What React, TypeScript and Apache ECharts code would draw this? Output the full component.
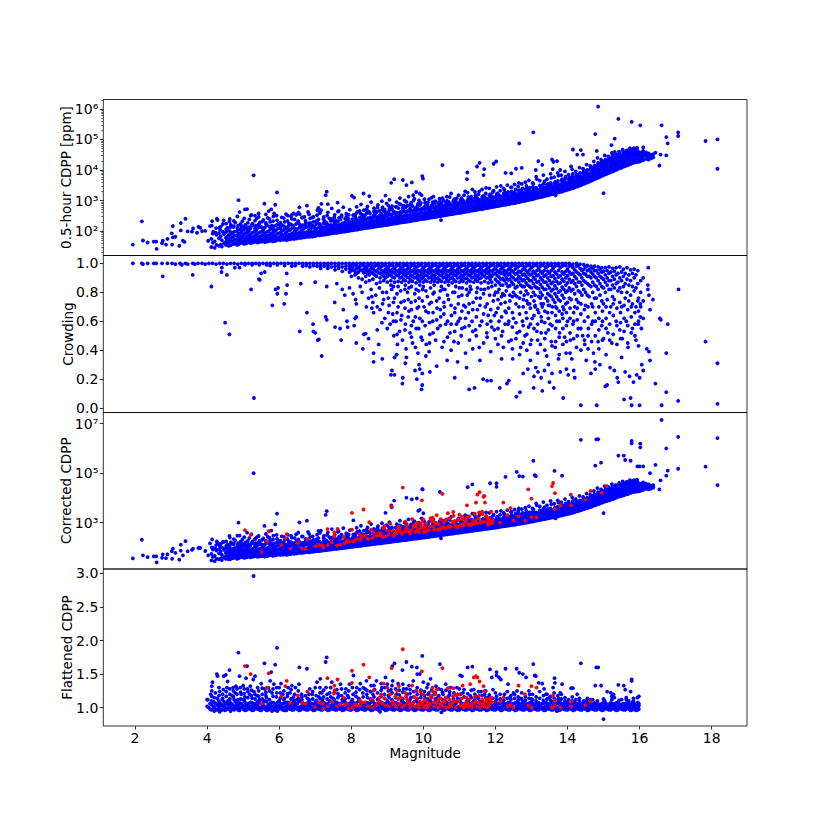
import React, { useEffect, useRef } from "react";
import * as echarts from "echarts";

// Every number below is an estimate.
// Rows are [magnitude, value, value, ...]; pairs are [magnitude, value].
const xTicks = [2, 4, 6, 8, 10, 12, 14, 16, 18];
const cdppTicks = [1e2, 1e3, 1e4, 1e5, 1e6];
const cdppMinor = [20, 30, 40, 50, 60, 70, 80, 90, 200, 300, 400, 500, 600, 700, 800, 900, 2e3, 3e3, 4e3, 5e3, 6e3, 7e3, 8e3, 9e3, 2e4, 3e4, 4e4, 5e4, 6e4, 7e4, 8e4, 9e4, 2e5, 3e5, 4e5, 5e5, 6e5, 7e5, 8e5, 9e5, 2e6];
const crowdTicks = [0, 0.2, 0.4, 0.6, 0.8, 1.0];
const correctedTicks = [1e3, 1e5, 1e7];
const flatTicks = [1.0, 1.5, 2.0, 2.5, 3.0];
const superscript: Record<number, string> = { 100: "10²", 1000: "10³", 10000: "10⁴", 100000: "10⁵", 1000000: "10⁶", 10000000: "10⁷" };

const cdppBand = [
[4.03,48],[4.12,30,55],[4.21,28,46],[4.33,33,58,85],[4.41,31,50],[4.52,35,44,60,92],[4.6,33,41,52,74],[4.71,37,47,63,88],[4.83,35,43,55,72,100],[4.9,39,48,62,84],[5.02,38,46,57,76,110],[5.11,41,50,65,90],[5.2,40,47,60,78,120],[5.31,44,53,68,95],[5.4,42,50,62,82,125],[5.52,45,55,70,98],[5.6,43,52,64,85,130],[5.71,47,57,72,100],[5.82,46,54,66,88,135],[5.9,48,58,74,105],[6.03,50,57,68,90,140],[6.12,52,60,76,108],[6.2,50,58,70,92,130],[6.31,54,62,78,110],[6.42,55,64,75,95],[6.5,58,67,82,115],[6.61,60,68,80,100],[6.7,62,72,86,125],[6.83,64,74,88,110,150],[6.92,66,76,92,130],
[7.01,70,80,95,115],[7.12,72,84,100,130,170],[7.2,75,86,105,125],[7.31,78,90,108,140,190],[7.42,82,95,112,135],[7.5,85,98,118,150,220],[7.61,88,102,122,145],[7.7,92,106,128,160,240],[7.82,96,112,135,170],[7.91,100,118,140,175,260],[8.02,105,122,148,190],[8.11,110,130,155,200,300],[8.2,114,135,165,210],[8.31,120,142,172,225,340],[8.4,125,150,182,240],[8.52,130,156,190,250,380],[8.6,135,162,200,265],[8.71,142,170,210,280,420],[8.82,148,178,220,290],[8.9,155,186,232,310,450],
[9.01,160,195,242,320],[9.1,168,205,255,340,500],[9.22,176,215,268,360],[9.31,184,225,280,375,560],[9.4,192,235,295,395],[9.51,200,245,310,415,600],[9.62,210,258,325,435],[9.7,220,270,340,450,650],[9.81,230,282,355,470],[9.9,240,295,370,490,700],[10.02,252,310,385,510],[10.11,262,325,400,530,750],[10.2,275,340,420,550],[10.31,288,355,440,575,800],[10.42,300,370,460,600],[10.5,315,385,480,625,850],[10.61,330,405,500,650],[10.7,345,425,520,680,900],[10.81,360,445,545,710],[10.9,378,465,570,740,950],
[11.02,395,485,595,770],[11.1,415,505,620,800,1000],[11.21,435,530,650,840],[11.3,455,555,680,870,1100],[11.41,475,580,710,900],[11.5,500,610,740,950,1200],[11.62,525,640,780,1000],[11.7,550,670,820,1050,1300],[11.81,580,700,860,1100],[11.9,610,735,900,1150,1400],[12.01,640,770,940,1200],[12.1,670,810,990,1250,1500],[12.2,705,850,1040,1300],[12.31,740,895,1090,1350,1650],[12.4,780,940,1150,1420],[12.52,820,990,1210,1500,1800],[12.6,870,1050,1280,1580],[12.7,920,1110,1350,1660,2000],[12.82,980,1180,1430,1750],[12.9,1040,1250,1520,1850,2200],
[13.01,1100,1330,1610,1960],[13.1,1180,1420,1720,2080,2500],[13.2,1260,1510,1830,2200],[13.32,1350,1620,1950,2350,2800],[13.4,1440,1730,2080,2500],[13.5,1540,1850,2220,2650,3200],[13.61,1650,1980,2380,2850],[13.7,1780,2130,2550,3050,3600],[13.82,1920,2300,2750,3300],[13.9,2080,2500,3000,3550,4200],[14.01,2260,2700,3250,3850],[14.1,2450,2950,3550,4200,5000],[14.2,2700,3250,3900,4650],[14.31,3000,3600,4300,5200,6200],[14.4,3300,4000,4800,5800],[14.5,3700,4450,5400,6500,8000],[14.6,4150,5000,6100,7400],[14.7,4700,5700,7000,8500,10500],[14.8,5300,6400,7900,9700,12000],[14.9,6000,7300,9000,11000,14000],
[15.0,6800,8200,10200,12500,16000],[15.1,7600,9300,11500,14000,18000],[15.2,8500,10500,13000,16000,21000],[15.3,9600,12000,15000,18500,24000],[15.4,11000,13500,17000,21000,27000],[15.5,12000,15000,19000,24000,31000],[15.6,13500,17000,21000,27000,34000],[15.7,15000,19000,24000,30000,37000],[15.8,17000,21000,26000,32000,40000],[15.9,18000,23000,28000,34000,43000],[16.0,19000,24000,30000,36000],[16.1,21000,27000,33000,42000],[16.25,22000,28000,35000],[16.38,26000,33000],
];

const cdppBand2 = [
[4.16,42,82],[4.26,35,75],[4.38,36,68,140],[4.47,40,80],[4.56,37,49,66,102],[4.65,34,45,58,78,135],[4.76,39,52,71,95],[4.87,37,46,59,82,115],[4.96,41,53,68,92,145],[5.07,39,49,61,85,125],[5.16,43,54,72,100],[5.26,42,51,63,88,150],[5.36,45,57,75,105],[5.46,44,52,66,90,135],[5.56,47,59,78,110],[5.66,45,55,69,94,155],[5.76,49,60,80,115],[5.86,48,56,71,96,145],[5.96,51,61,83,120],[6.07,52,59,73,100,160],[6.17,54,63,82,122],[6.26,53,61,74,103,145],[6.36,56,65,84,125],[6.47,58,67,79,108,170],[6.56,60,70,88,130],[6.66,62,71,84,112,155],[6.76,65,75,92,135],[6.87,67,78,95,120,180],[6.97,69,80,98,140],
[7.06,72,82,98,125,190],[7.16,74,86,104,145],[7.26,77,89,110,135,210],[7.36,80,93,114,150],[7.46,84,97,120,145,250],[7.56,87,101,125,165],[7.66,91,105,130,155,270],[7.76,94,110,138,180],[7.86,98,115,144,170,290],[7.96,103,120,150,195],[8.06,108,126,158,205,330],[8.16,112,132,168,220],[8.26,117,140,175,235,370],[8.36,123,146,185,255],[8.46,128,152,195,265,410],[8.56,133,160,205,280],[8.66,139,168,215,300,460],[8.76,145,175,225,310],[8.86,152,182,238,330,500],[8.96,158,192,248,345],
[9.06,164,200,260,360,540],[9.16,172,210,272,380],[9.26,180,220,288,400,620],[9.36,188,230,300,420],[9.46,196,240,315,440,680],[9.56,205,252,332,460],[9.66,215,264,346,480,730],[9.76,225,276,362,500],[9.86,235,288,378,525,780],[9.96,246,302,392,545],[10.06,257,318,410,570,820],[10.16,268,332,430,590],[10.26,282,348,448,610,880],[10.36,294,362,470,640],[10.46,308,378,490,665,930],[10.56,322,396,510,690],[10.66,338,415,532,720,980],[10.76,352,435,556,750],[10.86,370,455,582,780,1050],[10.96,386,475,606,810],
[11.06,405,495,630,840,1100],[11.16,425,518,660,870],[11.26,445,542,692,910,1200],[11.36,465,568,722,950],[11.46,488,595,755,990,1300],[11.56,512,625,795,1040],[11.66,538,655,835,1090,1400],[11.76,565,685,878,1140],[11.86,595,718,918,1200,1550],[11.96,625,752,958,1260],[12.06,655,790,1015,1310,1650],[12.16,688,830,1065,1370],[12.26,722,872,1115,1430,1800],[12.36,760,918,1175,1500],[12.46,800,965,1235,1570,1950],[12.56,845,1020,1310,1660],[12.66,895,1080,1385,1750,2200],[12.76,950,1145,1465,1850],[12.86,1010,1215,1550,1950,2400],[12.96,1070,1290,1650,2050],
[13.06,1140,1375,1760,2200,2700],[13.16,1220,1465,1870,2350],[13.26,1305,1565,1990,2480,3000],[13.36,1395,1675,2130,2650],[13.46,1490,1790,2270,2800,3500],[13.56,1595,1915,2430,3000],[13.66,1715,2055,2610,3200,3900],[13.76,1850,2215,2810,3450],[13.86,2000,2400,3060,3700,4600],[13.96,2170,2600,3320,4000],
[14.06,2350,2820,3600,4400,5500],[14.16,2570,3100,3980,4900],[14.26,2850,3420,4400,5500,6800],[14.36,3150,3800,4900,6100],[14.46,3500,4200,5500,6900,8800],[14.56,3900,4700,6200,7800],[14.66,4400,5350,7100,9000,11500],[14.76,5000,6050,8000,10200],[14.86,5650,6900,9200,11800,15000],[14.96,6400,7800,10400,13300],[15.06,7200,8800,11800,15000,19000],[15.16,8000,9900,13200,17000],[15.26,9000,11200,15000,19500,25000],[15.36,10200,12800,17000,22000],[15.46,11500,14200,19000,25000,33000],[15.56,12800,16000,21500,28000],[15.66,14200,18000,24000,31000,39000],[15.76,16000,20000,26500,33000],[15.86,17500,22000,29000,36000,45000],[15.96,18500,23000,31000,40000],[16.05,20000,25000,34000,38000],[16.18,23000,30000,38000],[16.32,24000,31000],
];

const cdppCloud = [
[4.08,145],[4.17,95],[4.25,125],[4.36,110],[4.44,170],[4.57,130],[4.66,160],[4.73,135],[4.78,190],[4.86,150],[4.94,120],[4.98,210],[5.06,160],[5.14,135],[5.17,240],[5.26,175],[5.35,150],[5.38,260],[5.46,190],[5.49,140],[5.56,230],[5.64,165],[5.68,270],[5.75,200],[5.79,150],[5.84,300],[5.94,225],[5.97,170],[6.07,280],[6.15,200],[6.24,320],[6.27,175],[6.35,250],[6.39,150],[6.47,340],[6.53,210],[6.57,165],[6.65,280],[6.74,190],[6.8,420],[6.86,260],[6.95,200],[7.05,330],[7.09,240],[7.16,480],[7.24,290],[7.27,190],[7.35,410],[7.39,260],[7.46,550],[7.54,340],[7.58,220],[7.65,460],[7.73,290],[7.78,600],[7.86,370],[7.88,240],[7.96,500],[8.06,330],[8.15,620],[8.17,420],[8.24,280],[8.27,750],[8.35,480],[8.38,330],[8.45,640],[8.49,420],[8.55,880],[8.63,560],[8.66,360],[8.74,720],[8.78,460],[8.85,950],[8.87,600],[8.95,400],[8.98,800],[9.06,1050],[9.13,650],[9.18,430],[9.26,880],[9.35,1200],[9.37,750],[9.45,500],[9.48,1000],[9.56,680],[9.59,1350],[9.66,850],[9.75,1150],[9.78,560],[9.85,760],[9.88,1000],[9.95,1500],[10.05,850],[10.08,620],[10.16,1100],[10.25,700],[10.28,1350],[10.35,900],[10.45,1150],[10.47,680],[10.56,1000],[10.65,1350],[10.74,780],[10.77,1700],[10.86,1100],[10.95,820],[10.98,1500],[11.06,1200],[11.16,2000],[11.25,1300],[11.34,1100],[11.36,2300],[11.45,1500],[11.55,2000],[11.66,1400],[11.74,2600],[11.85,1600],[11.95,2100],[12.05,1700],[12.15,3000],[12.25,2200],[12.35,1900],[12.45,2700],[12.56,2300],[12.65,3800],[12.75,2500],[12.86,3000],[12.95,2600],[13.05,3500],[13.15,5000],[13.25,3000],[13.36,4200],[13.45,3400],[13.55,5500],[13.65,4000],[13.75,6500],[13.85,5000],[13.95,6000],[14.05,5500],[14.15,7500],[14.25,7000],[14.35,8000],[14.45,9500],[14.55,10000],[14.65,11000],[14.75,14000],[14.85,17000],[14.95,19000],[15.05,22000],[15.15,26000],[15.25,30000],[15.35,32000],[15.45,35000],[15.55,40000],[15.65,44000],[15.75,48000],[15.85,52000],
];

const cdppCloud2 = [
[4.14,210],[4.24,88],[4.34,130],[4.43,95],[4.53,115,175],[4.63,100,250],[4.74,145,215],[4.84,125,300],[4.93,170,110],[5.03,135,260],[5.13,185,105],[5.23,150,340],[5.33,120,220],[5.43,165,290],[5.53,130,205],[5.63,185,350],[5.73,140,250],[5.83,210,115],[5.93,155,320],[6.03,190,125],[6.13,145,265],[6.23,215,120],[6.33,165,300],[6.43,125,240],[6.53,190,400],[6.63,140,275],[6.73,220,165],[6.83,180,350],[6.93,150,280],[7.03,210,170],[7.13,155,390],[7.23,245,180],[7.33,170,320],[7.43,215,160],[7.53,280,185],[7.63,200,430],[7.73,165,330],[7.83,250,190],[7.93,340,210],[8.03,245,180],[8.13,370,260],[8.23,210,460],[8.33,300,230],[8.43,390,520],[8.53,280,220],[8.63,440,330],[8.73,260,590],[8.83,370,280],[8.93,500,310],[9.03,420,680],[9.13,300,520],[9.23,620,400],[9.33,340,780],[9.43,520,640],[9.53,360,900],[9.63,550,720],[9.73,420,1000],[9.83,640,520],[9.93,830,450],[10.03,620,1100],[10.13,490,860],[10.23,690,1250],[10.33,530,950],[10.43,780,640],[10.53,1200,580],[10.63,860,690],[10.73,1300,740],[10.83,950,660],[10.93,1200,720],[11.03,1000,850],[11.13,1500,760],[11.23,1050,1800],[11.33,950,1350],[11.43,1200,1900],[11.53,1000,1600],[11.63,1300,2300],[11.73,1150,1700],[11.83,1450,2500],[11.93,1250,1900],[12.03,1500,2800],[12.13,1300,2100],[12.23,1700,2500],[12.33,1500,3200],[12.43,1900,2700],[12.53,1700,3400],[12.63,2100,2900],[12.73,2000,3500],[12.83,2300,4000],[12.93,2500,4600],[13.03,2700,3800],[13.13,2600,6000],[13.23,3100,4500],[13.33,3500,6800],[13.43,3300,5000],[13.53,3800,7500],[13.63,3600,5800],[13.73,4400,8000],[13.83,4500,6800],[13.93,5200,9000],[14.03,5000,7000],[14.13,6000,10500],[14.23,6000,9000],[14.33,7200,12000],[14.43,8000,11000],[14.53,9500,15000],[14.63,10500,13500],[14.73,12500,19000],[14.83,14000,25000],[14.93,16500,22000],[15.03,19000,30000],[15.13,21500,28000],[15.23,24000,36000],[15.33,26000,33000],[15.43,30000,40000],[15.53,33000,46000],[15.63,36000,42000],[15.73,40000,52000],[15.83,42000,50000],[15.93,44000,54000],
];

const cdppOutliers = [
[1.94,36],[2.22,49],[2.19,208],[2.35,42],[2.52,45],[2.59,45],[2.6,26],[2.75,40],[2.77,48],[2.9,55],[2.86,36],[3.03,36],[3.02,84],[3.05,146],[3.05,62],[3.12,65],[3.23,33],[3.27,183],[3.27,105],[3.33,48],[3.37,44],[3.4,253],[3.46,97],[3.58,95],[3.61,122],[3.72,88],[3.76,138],[3.81,128],[3.86,100],[3.95,102],[4.13,150],[4.27,253],[4.29,230],[4.46,224],[4.62,203],[4.87,1030],[4.9,417],[5.05,510],[5.11,525],[5.29,6700],[5.21,318],[5.33,318],[5.43,380],[5.59,785],[5.71,450],[5.78,510],[5.86,380],[5.89,727],[5.94,1850],[6.19,360],[6.35,340],[6.4,380],[6.56,600],[6.77,680],[6.57,360],[6.7,290],[6.95,290],[7.09,570],[7.06,480],[7.17,780],[7.29,1500],[7.32,1950],[7.35,760],[7.62,850],[8.02,1430],[8.08,1250],[8.34,1700],[8.5,1400],[8.95,1450],[9.11,3800],[9.19,5000],[9.43,4700],[9.53,3200],[9.68,3900],[9.97,6300],[9.99,5200],[9.8,1900],[9.72,1500],[9.9,1700],[10.53,14500],[11.56,17000],[11.49,13000],[11.69,10700],[11.67,6800],[11.22,8300],[11.21,5000],[12.02,19000],[11.95,16000],[12.28,8000],[12.44,7800],[12.57,11000],[12.73,11700],[13.19,19500],[13.3,14800],[13.12,10000],[13.57,22000],[13.61,18600],[13.71,19500],[13.59,10700],[13.8,10000],[14.1,13000],[14.85,1200000],[15.41,470000],[15.78,380000],[16.02,290000],[16.61,290000],[17.07,170000],[17.07,130000],[16.74,120000],[16.78,74000],[17.83,89000],[18.16,100000],[18.16,11000],[13.05,170000],[12.66,74000],[14.77,150000],[15.31,107000],[15.22,65000],[14.81,42000],[14.15,47000],[14.37,45000],[14.27,32000],[14.43,32000],[15.31,39000],[15.36,32000],[16.1,55000],[16.44,37000],[16.58,32000],[16.74,30000],[16.55,14000],[15.0,1740],[10.49,229],[13.67,1480],[16.24,34000],[16.29,24000],[16.22,29000],
];

const correctedOutliers = [
[1.94,36],[2.19,205],[2.22,48],[2.35,41],[2.52,44],[2.59,44],[2.6,25],[2.75,38],[2.77,52],[2.9,53],[2.86,37],[3.03,35],[3.05,90],[3.02,70],[3.12,60],[3.23,32],[3.27,130],[3.27,75],[3.4,180],[3.33,48],[3.46,70],[3.58,80],[3.61,90],[3.76,95],[3.81,95],[3.95,72],[4.13,100],[4.27,175],[4.29,155],[4.46,165],[4.62,290],[4.87,1000],[4.9,300],[5.11,400],[5.29,100000],[5.33,215],[5.59,740],[5.78,480],[5.89,850],[5.94,2300],[6.56,1030],[6.77,1200],[7.29,2050],[7.32,2900],[7.09,470],[8.06,1230],[8.95,2500],[9.19,7800],[9.11,5000],[9.12,4200],[9.53,10200],[9.68,8700],[9.82,9500],[9.97,22400],[9.9,3300],[9.86,3000],[10.0,2400],[9.98,22000],[10.46,17500],[11.36,35000],[11.23,27000],[11.85,39000],[12.03,39000],[12.03,28000],[12.28,71000],[12.59,112000],[12.66,76000],[12.76,72000],[13.05,316000],[13.09,83000],[13.12,75000],[13.64,123000],[13.85,79000],[14.37,2200000],[14.8,2300000],[14.85,2350000],[14.77,200000],[14.93,263000],[15.41,510000],[15.56,510000],[15.6,339000],[15.75,316000],[15.78,2000000],[15.78,1600000],[16.02,1550000],[16.02,1100000],[16.61,14000000],[17.07,2900000],[18.16,2600000],[16.74,1000000],[17.83,182000],[18.16,33000],[17.07,150000],[16.78,126000],[16.74,79000],[16.44,214000],[16.1,186000],[16.0,186000],[15.94,186000],[16.29,100000],[16.58,51000],[16.55,22000],[16.26,26000],[15.0,2450],[13.67,1510],[10.49,234],
];

const crowdBand = [
[1.94,1],[2.19,1],[2.22,0.995],[2.35,1],[2.52,1],[2.59,1],[2.75,1],[2.9,1],[3.03,1],[3.12,0.995],[3.25,1],[3.3,0.99],[3.4,1],[3.46,0.995],[3.6,1],[3.66,0.995],[3.75,1],[3.86,1],[3.95,0.995],[4.05,1],[4.15,1],[4.25,0.995],[4.35,1],[4.45,1],[4.55,0.995],[4.65,1],[4.75,1],[4.85,0.995],[4.95,1],[5.05,1,0.99],[5.15,1],[5.25,1,0.99],[5.35,1],[5.45,1,0.99],[5.55,1],[5.65,1,0.99],[5.75,1,0.985],[5.85,1],[5.95,1,0.99],[6.05,1],[6.15,1,0.985],[6.25,1],[6.35,1,0.98],[6.45,1,0.985],[6.55,1],[6.65,1,0.98],[6.75,1,0.985],[6.85,1,0.975],[6.95,1,0.985],[7.05,1,0.98],[7.15,1,0.985,0.965],[7.25,1,0.98],[7.35,1,0.985,0.965],[7.45,1,0.975],[7.55,1,0.98,0.955],[7.65,1,0.985,0.965],[7.75,1,0.975,0.945],[7.85,1,0.98,0.96],[7.95,1,0.985,0.965,0.94],[8.05,1,0.98,0.96],[8.15,1,0.985,0.965,0.93],[8.25,1,0.98,0.955],[8.35,1,0.985,0.96,0.935],[8.45,1,0.98,0.955,0.93],[8.55,1,0.985,0.965,0.94],[8.65,1,0.98,0.95,0.92],[8.75,1,0.985,0.96,0.935],[8.85,1,0.98,0.95,0.925],[8.95,1,0.985,0.96,0.93,0.9],[9.05,1,0.98,0.955,0.925],[9.15,1,0.985,0.96,0.935,0.905],[9.25,1,0.98,0.95,0.92],[9.35,1,0.985,0.96,0.93,0.9],[9.45,1,0.98,0.955,0.925,0.89],[9.55,1,0.985,0.96,0.93,0.905],[9.65,1,0.98,0.95,0.92,0.885],[9.75,1,0.985,0.96,0.93,0.9],[9.85,1,0.98,0.95,0.92,0.89],[9.95,1,0.985,0.955,0.925,0.895],
[10.05,1,0.98,0.95,0.92,0.885],[10.15,1,0.985,0.96,0.93,0.9],[10.25,1,0.98,0.95,0.92,0.89],[10.35,1,0.985,0.955,0.925,0.895],[10.45,1,0.98,0.95,0.92,0.885],[10.55,1,0.985,0.96,0.93,0.9],[10.65,1,0.98,0.95,0.92,0.89],[10.75,1,0.985,0.955,0.925,0.895],[10.85,1,0.98,0.95,0.92,0.885],[10.95,1,0.985,0.96,0.93,0.9],[11.05,1,0.98,0.95,0.92,0.89],[11.15,1,0.985,0.955,0.925,0.895],[11.25,1,0.98,0.95,0.92,0.885],[11.35,1,0.985,0.96,0.93,0.9],[11.45,1,0.98,0.95,0.92,0.89],[11.55,1,0.985,0.955,0.925,0.895],[11.65,1,0.98,0.95,0.92],[11.75,1,0.985,0.96,0.93,0.9],[11.85,1,0.98,0.95,0.92,0.89],[11.95,1,0.985,0.955,0.925],
[12.05,1,0.98,0.95,0.915,0.875],[12.15,1,0.985,0.96,0.93,0.89,0.85],[12.25,1,0.98,0.95,0.92,0.88],[12.35,1,0.985,0.955,0.92,0.885,0.84],[12.45,1,0.98,0.95,0.91,0.87],[12.55,1,0.985,0.96,0.925,0.885,0.83],[12.65,1,0.98,0.945,0.91,0.87],[12.75,1,0.985,0.955,0.92,0.88,0.84],[12.85,1,0.98,0.95,0.91,0.865,0.81],[12.95,1,0.985,0.955,0.92,0.88,0.84],[13.05,1,0.98,0.945,0.905,0.86,0.8],[13.15,1,0.985,0.95,0.915,0.87,0.83],[13.25,1,0.98,0.945,0.9,0.855,0.8,0.76],[13.35,1,0.985,0.95,0.91,0.87,0.82],[13.45,1,0.98,0.945,0.9,0.85,0.79,0.74],[13.55,1,0.985,0.95,0.91,0.86,0.81,0.77],[13.65,1,0.98,0.94,0.895,0.845,0.79,0.73],[13.75,1,0.985,0.95,0.905,0.86,0.8,0.75],[13.85,1,0.98,0.94,0.89,0.835,0.78],[13.95,1,0.985,0.945,0.9,0.85,0.8,0.72],
[14.05,1,0.98,0.94,0.89,0.83,0.76],[14.15,0.995,0.97,0.93,0.88,0.82],[14.25,1,0.98,0.94,0.895,0.84,0.75],[14.35,0.995,0.965,0.92,0.87,0.8],[14.45,0.99,0.96,0.93,0.88,0.82],[14.55,0.985,0.95,0.91,0.86,0.78],[14.65,0.98,0.94,0.9,0.84],[14.75,0.98,0.95,0.91,0.85,0.76],[14.85,0.975,0.93,0.88,0.82],[14.95,0.97,0.94,0.9,0.84,0.74],[15.05,0.97,0.92,0.87,0.8],[15.15,0.975,0.93,0.88,0.82],[15.25,0.965,0.91,0.85,0.77],[15.35,0.97,0.92,0.86],[15.45,0.975,0.9,0.83,0.73],[15.55,0.96,0.91,0.84],[15.65,0.97,0.89,0.8],[15.75,0.955,0.88,0.78],[15.85,0.96,0.9,0.81],[15.95,0.95,0.86,0.74],
];

const crowdBand2 = [
[8.0,0.99,0.97,0.95,0.91],[8.1,0.99,0.945,0.92],[8.2,0.97,0.94,0.9],[8.3,0.99,0.95,0.89],[8.4,0.97,0.94,0.91,0.87],[8.5,0.99,0.95,0.92,0.88],[8.6,0.965,0.93,0.89],[8.7,0.99,0.945,0.91,0.86],[8.8,0.97,0.93,0.9,0.87],[8.9,0.99,0.945,0.91,0.88],[9.0,0.97,0.94,0.91,0.87],[9.1,0.99,0.945,0.915,0.88,0.85],[9.2,0.965,0.935,0.9,0.87],[9.3,0.99,0.945,0.915,0.875,0.84],[9.4,0.97,0.94,0.905,0.87],[9.5,0.99,0.945,0.915,0.88,0.85],[9.6,0.965,0.935,0.9,0.87,0.83],[9.7,0.99,0.945,0.91,0.875],[9.8,0.97,0.94,0.905,0.865,0.82],[9.9,0.99,0.945,0.91,0.875,0.85],
[10.0,0.965,0.935,0.905,0.87,0.84],[10.1,0.99,0.945,0.915,0.875],[10.2,0.97,0.94,0.905,0.87,0.83],[10.3,0.99,0.945,0.91,0.875,0.85],[10.4,0.965,0.935,0.9,0.87],[10.5,0.99,0.945,0.915,0.875,0.84],[10.6,0.97,0.94,0.905,0.87,0.82],[10.7,0.99,0.945,0.91,0.875,0.85],[10.8,0.965,0.935,0.9,0.865],[10.9,0.99,0.945,0.915,0.875,0.84],[11.0,0.97,0.94,0.905,0.87,0.83],[11.1,0.99,0.945,0.91,0.875],[11.2,0.965,0.935,0.9,0.865,0.82],[11.3,0.99,0.945,0.915,0.875,0.84],[11.4,0.97,0.94,0.905,0.87],[11.5,0.99,0.945,0.91,0.875,0.83],[11.6,0.965,0.935,0.9,0.865,0.82],[11.7,0.99,0.945,0.91,0.875],[11.8,0.97,0.94,0.905,0.865,0.83],[11.9,0.99,0.945,0.91,0.87,0.84],
[12.0,0.965,0.93,0.89,0.85,0.8],[12.1,0.99,0.94,0.905,0.865,0.82],[12.2,0.97,0.935,0.895,0.85,0.79],[12.3,0.99,0.94,0.9,0.86,0.81],[12.4,0.965,0.93,0.89,0.845,0.78],[12.5,0.99,0.94,0.9,0.855,0.8],[12.6,0.97,0.93,0.89,0.84,0.77],[12.7,0.99,0.94,0.895,0.85,0.8],[12.8,0.965,0.925,0.885,0.84,0.78],[12.9,0.99,0.935,0.895,0.85,0.79,0.72],[13.0,0.97,0.925,0.88,0.83,0.77],[13.1,0.99,0.93,0.89,0.84,0.78,0.71],[13.2,0.965,0.92,0.875,0.825,0.77],[13.3,0.99,0.93,0.885,0.835,0.78,0.7],[13.4,0.97,0.92,0.87,0.82,0.76],[13.5,0.99,0.93,0.88,0.83,0.78,0.71],[13.6,0.965,0.915,0.87,0.82,0.75],[13.7,0.99,0.925,0.875,0.825,0.77,0.69],[13.8,0.97,0.915,0.865,0.81,0.74],[13.9,0.99,0.925,0.875,0.82,0.76,0.68],
[14.0,0.96,0.915,0.865,0.81,0.73],[14.1,0.985,0.925,0.87,0.81,0.75],[14.2,0.955,0.91,0.86,0.79,0.7],[14.3,0.985,0.93,0.87,0.81,0.73],[14.4,0.95,0.9,0.85,0.78],[14.5,0.975,0.925,0.87,0.8,0.71],[14.6,0.96,0.91,0.85,0.77],[14.7,0.965,0.925,0.87,0.8,0.7],[14.8,0.95,0.9,0.84,0.76],[14.9,0.955,0.91,0.86,0.78],[15.0,0.945,0.89,0.83,0.72],[15.1,0.95,0.9,0.85,0.75],[15.2,0.94,0.88,0.82,0.7],[15.3,0.945,0.89,0.83,0.75],[15.4,0.93,0.87,0.81],[15.5,0.94,0.88,0.8,0.7],[15.6,0.93,0.86,0.76],[15.7,0.92,0.85,0.74],[15.8,0.93,0.84,0.72],[15.9,0.92,0.83,0.7],
];

const crowdCloud = [
[2.77,0.91],[3.6,0.92],[4.12,0.84],[4.5,0.59],[4.62,0.51],[5.22,0.82],[5.3,0.07],[4.4,0.94],[4.55,0.92],[4.77,0.97],[4.9,0.97],[4.41,0.97],[5.44,0.89],[5.46,0.885],[5.5,0.93],[5.6,0.94],[5.81,0.71],[5.9,0.82],[5.97,0.83],[5.95,0.79],[6.14,0.72],[6.19,0.79],[6.22,0.85],[6.21,0.93],[6.6,0.86],[6.77,0.66],[6.57,0.53],[6.94,0.58],[6.95,0.53],[7.0,0.52],[7.07,0.47],[7.1,0.475],[7.18,0.36],[7.0,0.87],[7.32,0.84],[7.29,0.63],[7.32,0.61],[7.54,0.73],[7.55,0.56],[7.69,0.55],[7.72,0.47],[7.78,0.68],[7.88,0.6],[7.9,0.56],[8.08,0.57],[8.14,0.63],[8.11,0.62],[8.14,0.45],[8.35,0.51],[8.4,0.515],[8.48,0.48],[8.32,0.41],[8.62,0.38],[8.62,0.32],[8.86,0.34],[8.76,0.44],[8.72,0.54],[9.1,0.23],[9.13,0.26],[9.2,0.23],[9.43,0.21],[9.42,0.17],[9.2,0.35],[9.26,0.37],[9.5,0.31],[9.53,0.35],[9.77,0.26],[9.82,0.2],[9.88,0.3],[9.9,0.27],[9.97,0.24],[9.95,0.13],[9.97,0.16],[10.18,0.25],[10.16,0.39],
[7.6,0.86],[7.75,0.82],[7.82,0.78],[7.95,0.83],[8.05,0.79],[8.12,0.75],[8.14,0.72],[8.25,0.84],[8.3,0.8],[8.42,0.7],[8.48,0.76],[8.55,0.82],[8.6,0.73],[8.62,0.66],[8.68,0.78],[8.72,0.7],[8.78,0.83],[8.8,0.68],[8.85,0.59],[8.9,0.75],[8.93,0.62],[8.98,0.8],[9.0,0.55],[9.05,0.71],[9.08,0.58],[9.12,0.82],[9.15,0.65],[9.18,0.5],[9.2,0.76],[9.24,0.6],[9.28,0.44],[9.3,0.7],[9.34,0.53],[9.37,0.81],[9.4,0.64],[9.42,0.47],[9.47,0.74],[9.5,0.58],[9.52,0.41],[9.56,0.8],[9.6,0.67],[9.63,0.52],[9.66,0.73],[9.7,0.45],[9.72,0.6],[9.76,0.79],[9.8,0.55],[9.83,0.69],[9.85,0.38],[9.88,0.76],[9.9,0.62],[9.94,0.49],[9.98,0.82],[10.02,0.7],[10.05,0.57],[10.08,0.44],[10.11,0.77],[10.14,0.66],[10.18,0.51],[10.22,0.73],[10.26,0.6],[10.3,0.8],[10.34,0.47],[10.38,0.69],[10.4,0.55],[10.44,0.76],[10.48,0.63],[10.52,0.42],[10.55,0.82],[10.58,0.7],[10.62,0.58],[10.66,0.33],[10.7,0.75],[10.74,0.52],[10.78,0.64],[10.82,0.8],[10.85,0.46],[10.88,0.69],[10.92,0.58],[10.95,0.32],[10.98,0.77],[11.02,0.62],[11.05,0.5],[11.08,0.83],[11.12,0.71],[11.15,0.56],[11.2,0.28],[11.22,0.78],[11.25,0.66],[11.28,0.47],[11.32,0.82],[11.35,0.6],[11.38,0.73],[11.42,0.14],[11.45,0.54],[11.48,0.8],[11.5,0.68],[11.55,0.42],[11.58,0.76],[11.62,0.6],[11.66,0.2],[11.7,0.82],[11.72,0.7],[11.76,0.52],[11.8,0.64],[11.84,0.78],[11.88,0.19],[11.9,0.56],[11.94,0.74],[12.0,0.48],[12.02,0.66],[12.06,0.8],[12.1,0.6],[12.12,0.14],[12.15,0.72],[12.2,0.53],[12.22,0.42],[12.25,0.78],[12.3,0.66],[12.32,0.17],[12.35,0.58],[12.4,0.74],[12.44,0.47],[12.48,0.34],[12.5,0.62],[12.55,0.78],[12.58,0.08],[12.6,0.52],[12.65,0.7],[12.68,0.11],[12.7,0.42],[12.75,0.6],[12.78,0.75],[12.82,0.5],[12.85,0.66],[12.9,0.27],[12.92,0.56],[12.95,0.72],[13.0,0.47],[13.02,0.62],[13.06,0.14],[13.1,0.7],[13.12,0.28],[13.15,0.53],[13.18,0.25],[13.2,0.66],[13.25,0.44],[13.28,0.6],[13.3,0.12],[13.33,0.72],[13.36,0.26],[13.4,0.52],[13.42,0.36],[13.45,0.66],[13.5,0.18],[13.52,0.58],[13.55,0.46],[13.58,0.7],[13.62,0.14],[13.66,0.42],[13.7,0.6],[13.75,0.34],[13.78,0.52],[13.8,0.25],[13.85,0.65],[13.88,0.07],[13.92,0.49],[13.96,0.38],[14.0,0.6],[14.02,0.23],[14.08,0.47],[14.12,0.34],[14.15,0.58],[14.2,0.21],[14.25,0.42],[14.3,0.55],[14.37,0.02],[14.42,0.5],[14.48,0.44],[14.52,0.33],[14.58,0.55],[14.65,0.24],[14.7,0.6],[14.72,0.38],[14.76,0.32],[14.81,0.02],[14.85,0.46],[14.9,0.3],[14.95,0.57],[15.0,0.48],[15.05,0.15],[15.1,0.16],[15.12,0.52],[15.18,0.28],[15.23,0.45],[15.3,0.26],[15.35,0.6],[15.38,0.21],[15.41,0.18],[15.45,0.54],[15.5,0.35],[15.52,0.48],[15.57,0.06],[15.6,0.25],[15.63,0.6],[15.68,0.42],[15.72,0.22],[15.75,0.07],[15.8,0.55],[15.78,0.02],[15.83,0.18],[15.9,0.47],[15.92,0.23],[15.96,0.58],[16.0,0.02],[16.0,0.21],[16.02,0.72],[16.06,0.3],[16.1,0.26],[16.02,0.63],[16.05,0.55],[16.24,0.97],[16.23,0.85],[16.23,0.82],[16.26,0.78],[16.37,0.75],[16.29,0.68],[16.2,0.41],[16.26,0.39],[16.29,0.33],[16.44,0.17],[16.56,0.62],[16.59,0.61],[16.61,0.02],[16.74,0.38],[16.74,0.11],[16.78,0.58],[17.08,0.82],[17.83,0.46],[18.16,0.31],[18.16,0.03],[17.07,0.05],
];

const crowdCloud2 = [
[8.57,0.77,0.69],[8.87,0.8,0.72],[9.03,0.76,0.66],[9.17,0.84,0.73,0.6],[9.27,0.79,0.66,0.51],[9.38,0.73,0.61],[9.49,0.82,0.69,0.54],[9.58,0.75,0.63],[9.67,0.84,0.68,0.57,0.49],[9.78,0.74,0.63,0.42],[9.87,0.81,0.7,0.55],[9.97,0.74,0.6,0.47],[10.07,0.81,0.67,0.36],[10.17,0.72,0.59,0.45],[10.27,0.79,0.66,0.52],[10.37,0.74,0.61,0.29],[10.47,0.81,0.68,0.57],[10.57,0.73,0.65,0.46],[10.67,0.78,0.6,0.49],[10.77,0.71,0.58,0.4],[10.87,0.8,0.66,0.53,0.21],[10.97,0.72,0.6,0.45],[11.07,0.78,0.67,0.55],[11.17,0.7,0.62,0.38],[11.27,0.8,0.72,0.57,0.13],[11.37,0.68,0.53,0.41],[11.47,0.76,0.63,0.5],[11.57,0.71,0.57,0.33],[11.67,0.79,0.65,0.45],[11.77,0.72,0.58,0.49,0.19],[11.87,0.68,0.6,0.39],[11.97,0.78,0.64,0.54],
[12.07,0.75,0.69,0.55,0.44],[12.17,0.77,0.63,0.5,0.34],[12.27,0.73,0.67,0.58],[12.37,0.69,0.6,0.46,0.19],[12.47,0.77,0.66,0.56,0.41],[12.57,0.72,0.59,0.48],[12.67,0.76,0.65,0.53,0.37],[12.77,0.7,0.57,0.45,0.24],[12.87,0.74,0.62,0.51,0.4],[12.97,0.69,0.58,0.44,0.33],[13.07,0.74,0.64,0.55,0.22],[13.17,0.68,0.58,0.47,0.38],[13.27,0.72,0.63,0.52,0.21],[13.37,0.67,0.59,0.48,0.4],[13.47,0.71,0.62,0.54,0.3],[13.57,0.66,0.57,0.43,0.24],[13.67,0.7,0.64,0.55,0.46],[13.77,0.67,0.6,0.49,0.37],[13.87,0.7,0.62,0.55,0.44],[13.97,0.66,0.57,0.46,0.27],
[14.07,0.69,0.62,0.52,0.38],[14.17,0.66,0.6,0.48,0.26],[14.27,0.69,0.61,0.5],[14.37,0.72,0.65,0.55,0.4],[14.47,0.68,0.6,0.47],[14.57,0.7,0.63,0.5,0.41],[14.67,0.72,0.58,0.46],[14.77,0.66,0.6,0.5,0.27],[14.87,0.7,0.62,0.54,0.41],[14.97,0.67,0.6,0.47],[15.07,0.7,0.62,0.55,0.37],[15.17,0.66,0.58,0.47],[15.27,0.72,0.64,0.51],[15.37,0.69,0.57,0.44],[15.47,0.66,0.59,0.48],[15.57,0.71,0.62,0.53],[15.67,0.68,0.57,0.45],[15.77,0.7,0.63,0.52],[15.87,0.66,0.58,0.5],[15.97,0.76,0.67,0.6,0.43],[16.03,0.88,0.8,0.7],[16.1,0.9,0.74,0.62],
];

const flatBand = [
[4.0,1.02,1.12],[4.05,1.0],[4.12,0.97,1.05,1.1],[4.2,0.95,1.0,1.08],[4.28,0.97,1.04,1.14],[4.35,0.94,1.0,1.07],[4.42,0.97,1.03,1.12],[4.5,0.96,1.0,1.06],[4.58,0.98,1.04,1.1],[4.65,0.95,1.0,1.07],[4.75,0.97,1.02,1.12],[4.82,0.99,1.05,1.09],[4.9,0.96,1.0,1.07],[5.0,0.98,1.03,1.12],[5.1,0.97,1.0,1.05],[5.2,0.98,1.02,1.08],[5.3,0.97,1.0,1.05],[5.4,0.98,1.03,1.09],[5.5,0.96,1.0,1.06],[5.6,0.98,1.02,1.1],[5.7,0.97,1.0,1.05],[5.8,0.95,1.02,1.08],[5.9,0.97,1.0,1.05],[6.0,0.98,1.03,1.1],[6.1,0.97,1.0,1.06],[6.2,0.96,1.02,1.08],[6.3,0.98,1.0,1.05],[6.4,0.97,1.03,1.09],[6.5,0.98,1.0,1.06],[6.6,0.97,1.02,1.1],[6.7,0.98,1.0,1.05],[6.8,0.97,1.03,1.07],[6.9,0.98,1.0,1.06],[7.0,0.97,1.02,1.08],[7.1,0.98,1.0,1.05],[7.2,0.97,1.03,1.09],[7.3,0.98,1.0,1.06],[7.4,0.97,1.02,1.1],[7.5,0.98,1.0,1.05],[7.6,0.97,1.03,1.08],[7.7,0.98,1.0,1.06],[7.8,0.97,1.02,1.1],[7.9,0.98,1.0,1.05],[8.0,0.97,1.03,1.09],[8.1,0.98,1.0,1.06],[8.2,0.97,1.02,1.1],[8.3,0.98,1.0,1.05],[8.4,0.97,1.03,1.08],[8.5,0.98,1.0,1.06],[8.6,0.97,1.02,1.1],[8.7,0.98,1.0,1.05],[8.8,0.94,1.03,1.09],[8.9,0.98,1.0,1.06],[9.0,0.97,1.02,1.1],[9.1,0.98,1.0,1.05],[9.2,0.97,1.03,1.08],[9.3,0.98,1.0,1.06],[9.4,0.97,1.02,1.1],[9.5,0.98,1.0,1.05],[9.6,0.97,1.03,1.09],[9.7,0.98,1.0,1.06],[9.8,0.97,1.02,1.1],[9.9,0.98,1.0,1.05],[10.0,0.97,1.03,1.08],[10.1,0.98,1.0,1.06],[10.2,0.97,1.02,1.1],[10.3,0.98,1.0,1.05],[10.4,0.97,1.03,1.09],[10.5,0.93,1.0,1.06],[10.6,0.97,1.02,1.1],[10.7,0.98,1.0,1.05],[10.8,0.97,1.03,1.08],[10.9,0.98,1.0,1.06],[11.0,0.97,1.02,1.1],[11.1,0.98,1.0,1.05],[11.2,0.97,1.03,1.09],[11.3,0.98,1.0,1.06],[11.4,0.97,1.02,1.1],[11.5,0.98,1.0,1.05],[11.6,0.97,1.03,1.08],[11.7,0.98,1.0,1.06],[11.8,0.97,1.02,1.1],[11.9,0.98,1.0,1.05],[12.0,0.97,1.03,1.09],[12.1,0.98,1.0,1.06],[12.2,0.97,1.02,1.08],[12.3,0.98,1.0,1.05],[12.4,0.97,1.03,1.07],[12.5,0.98,1.0,1.06],[12.6,0.97,1.02,1.08],[12.7,0.98,1.0,1.05],[12.8,0.97,1.03,1.09],[12.9,0.98,1.0,1.06],[13.0,0.97,1.02,1.08],[13.1,0.98,1.0,1.05],[13.2,0.97,1.03,1.07],[13.3,0.98,1.0,1.06],[13.4,0.97,1.02,1.08],[13.5,0.98,1.0,1.05],[13.6,0.97,1.03,1.09],[13.7,0.95,1.0,1.06],[13.8,0.97,1.02,1.08],[13.9,0.98,1.0,1.05],[14.0,0.97,1.03,1.07],[14.1,0.98,1.0,1.06],[14.2,0.97,1.02,1.08],[14.3,0.98,1.0,1.05],[14.4,0.97,1.03,1.06],[14.5,0.98,1.0,1.05],[14.6,0.97,1.02,1.08],[14.7,0.98,1.0,1.05],[14.8,0.97,1.03,1.06],[14.9,0.98,1.0,1.05],[15.0,0.83,0.97,1.02,1.08],[15.1,0.98,1.0,1.05],[15.2,0.97,1.03,1.07],[15.3,0.98,1.0,1.05],[15.4,0.97,1.02,1.08],[15.5,0.98,1.0,1.05],[15.6,0.97,1.03,1.06],[15.7,0.98,1.0,1.05],[15.8,0.97,1.02,1.08],[15.9,0.96,1.0,1.05],[15.98,0.98,1.03,1.06],
];

const flatBand2 = [
[4.08,0.98,1.06],[4.17,1.02,1.09],[4.24,0.98,1.06],[4.32,1.02,1.1],[4.39,0.97,1.05],[4.47,1.02,1.09],[4.54,0.98,1.07],[4.62,1.02,1.12],[4.7,0.98,1.05],[4.78,1.0,1.09],[4.86,0.97,1.03],[4.95,1.01,1.06],[5.05,0.96,1.02,1.08],[5.15,0.99,1.03,1.06],[5.25,0.96,1.01,1.07],[5.35,0.99,1.03,1.06],[5.45,0.97,1.01,1.08],[5.55,0.99,1.04,1.07],[5.65,0.96,1.01,1.09],[5.75,0.99,1.03,1.06],[5.85,0.97,1.01,1.07],[5.95,0.95,1.02,1.08],[6.05,0.99,1.03,1.06],[6.15,0.96,1.01,1.07],[6.25,0.99,1.04,1.08],[6.35,0.97,1.01,1.06],[6.45,0.99,1.03,1.07],[6.55,0.96,1.01,1.09],[6.65,0.99,1.04,1.07],[6.75,0.97,1.01,1.06],[6.85,0.99,1.03,1.08],[6.95,0.96,1.01,1.06],[7.05,0.99,1.04,1.07],[7.15,0.97,1.01,1.08],[7.25,0.99,1.03,1.07],[7.35,0.96,1.01,1.06],[7.45,0.99,1.04,1.09],[7.55,0.97,1.01,1.07],[7.65,0.99,1.03,1.06],[7.75,0.96,1.01,1.08],[7.85,0.99,1.04,1.07],[7.95,0.97,1.01,1.06],[8.05,0.99,1.03,1.08],[8.15,0.96,1.01,1.07],[8.25,0.99,1.04,1.09],[8.35,0.97,1.01,1.06],[8.45,0.99,1.03,1.07],[8.55,0.96,1.01,1.08],[8.65,0.99,1.04,1.06],[8.75,0.97,1.01,1.07],[8.85,0.99,1.03,1.08],[8.95,0.96,1.01,1.06],[9.05,0.99,1.04,1.07],[9.15,0.97,1.01,1.09],[9.25,0.99,1.03,1.07],[9.35,0.96,1.01,1.06],[9.45,0.99,1.04,1.08],[9.55,0.97,1.01,1.07],[9.65,0.99,1.03,1.06],[9.75,0.96,1.01,1.09],[9.85,0.99,1.04,1.07],[9.95,0.97,1.01,1.06],[10.05,0.99,1.03,1.08],[10.15,0.96,1.01,1.07],[10.25,0.99,1.04,1.06],[10.35,0.97,1.01,1.09],[10.45,0.99,1.03,1.07],[10.55,0.96,1.01,1.06],[10.65,0.99,1.04,1.08],[10.75,0.97,1.01,1.07],[10.85,0.99,1.03,1.06],[10.95,0.96,1.01,1.09],[11.05,0.99,1.04,1.07],[11.15,0.97,1.01,1.06],[11.25,0.99,1.03,1.08],[11.35,0.96,1.01,1.07],[11.45,0.99,1.04,1.06],[11.55,0.97,1.01,1.09],[11.65,0.99,1.03,1.07],[11.75,0.96,1.01,1.06],[11.85,0.99,1.04,1.08],[11.95,0.97,1.01,1.07],[12.05,0.99,1.03,1.06],[12.15,0.96,1.01,1.07],[12.25,0.99,1.04,1.06],[12.35,0.97,1.01,1.08],[12.45,0.99,1.03,1.05],[12.55,0.96,1.01,1.07],[12.65,0.99,1.04,1.06],[12.75,0.97,1.01,1.08],[12.85,0.99,1.03,1.05],[12.95,0.96,1.01,1.07],[13.05,0.99,1.04,1.06],[13.15,0.97,1.01,1.08],[13.25,0.99,1.03,1.05],[13.35,0.96,1.01,1.07],[13.45,0.99,1.04,1.06],[13.55,0.97,1.01,1.08],[13.65,0.99,1.03,1.05],[13.75,0.96,1.01,1.07],[13.85,0.99,1.04,1.06],[13.95,0.97,1.01,1.08],[14.05,0.99,1.03,1.05],[14.15,0.96,1.01,1.07],[14.25,0.99,1.04,1.06],[14.35,0.97,1.01,1.05],[14.45,0.99,1.03,1.07],[14.55,0.96,1.01,1.05],[14.65,0.99,1.04,1.06],[14.75,0.97,1.01,1.07],[14.85,0.99,1.03,1.05],[14.95,0.96,1.01,1.06],[15.05,0.99,1.04,1.07],[15.15,0.97,1.01,1.05],[15.25,0.99,1.03,1.06],[15.35,0.96,1.01,1.07],[15.45,0.99,1.04,1.05],[15.55,0.97,1.01,1.06],[15.65,0.99,1.03,1.07],[15.75,0.96,1.01,1.05],[15.85,0.99,1.04,1.06],[15.95,0.97,1.01,1.08],
];

const flatCloud = [
[4.02,1.12],[4.1,1.2],[4.13,1.32],[4.15,1.38],[4.27,1.5],[4.29,1.47],[4.2,1.15],[4.35,1.24],[4.45,1.27],[4.46,1.47],[4.52,1.49],[4.55,1.3],[4.62,1.56],[4.57,1.39],[4.7,1.18],[4.72,1.3],[4.78,1.22],[4.8,1.32],[4.87,1.82],[4.9,1.47],[4.85,1.12],[4.92,1.3],[4.95,1.2],[5.0,1.33],[5.05,1.16],[5.11,1.62],[5.08,1.44],[5.12,1.28],[5.18,1.2],[5.2,1.32],[5.25,1.14],[5.28,1.42],[5.3,1.24],[5.33,1.47],[5.38,1.18],[5.4,1.3],[5.45,1.12],[5.5,1.36],[5.53,1.2],[5.59,1.66],[5.6,1.28],[5.65,1.15],[5.7,1.3],[5.78,1.53],[5.75,1.4],[5.8,1.22],[5.85,1.35],[5.89,1.64],[5.94,1.89],[5.92,1.16],[6.0,1.3],[6.05,1.36],[6.1,1.2],[6.15,1.14],[6.25,1.3],[6.3,1.22],[6.35,1.33],[6.4,1.16],[6.45,1.3],[6.5,1.12],[6.56,1.6],[6.55,1.35],[6.62,1.2],[6.77,1.58],[6.78,1.14],[6.85,1.28],[6.92,1.2],[7.0,1.3],[7.05,1.38],[7.1,1.16],[7.14,1.43],[7.18,1.22],[7.2,1.13],[7.29,1.68],[7.32,1.75],[7.3,1.3],[7.4,1.22],[7.46,1.38],[7.5,1.14],[7.6,1.27],[7.65,1.17],[7.7,1.35],[7.75,1.12],[7.85,1.28],[7.9,1.18],[7.95,1.35],[8.06,1.48],[8.05,1.2],[8.15,1.3],[8.2,1.14],[8.25,1.36],[8.32,1.22],[8.38,1.28],[8.42,1.4],[8.45,1.15],[8.55,1.33],[8.6,1.2],[8.65,1.27],[8.7,1.4],[8.75,1.14],[8.85,1.3],[8.92,1.2],[8.95,1.45],[9.0,1.35],[9.05,1.15],[9.1,1.27],[9.14,1.62],[9.2,1.66],[9.15,1.4],[9.25,1.2],[9.3,1.36],[9.35,1.14],[9.42,1.56],[9.45,1.28],[9.53,1.68],[9.55,1.2],[9.6,1.33],[9.68,1.61],[9.65,1.15],[9.72,1.4],[9.82,1.6],[9.83,1.5],[9.8,1.25],[9.9,1.5],[9.95,1.2],[9.97,1.77],[10.0,1.38],[10.05,1.14],[10.1,1.3],[10.15,1.22],[10.2,1.43],[10.3,1.2],[10.35,1.32],[10.4,1.15],[10.46,1.65],[10.5,1.27],[10.55,1.2],[10.62,1.35],[10.7,1.17],[10.75,1.3],[10.85,1.22],[10.95,1.14],[11.0,1.28],[11.02,1.48],[11.07,1.47],[11.1,1.22],[11.23,1.6],[11.36,1.61],[11.3,1.18],[11.4,1.27],[11.5,1.16],[11.6,1.24],[11.7,1.2],[11.85,1.57],[11.8,1.15],[11.9,1.45],[12.03,1.53],[12.03,1.48],[12.0,1.22],[12.1,1.45],[12.15,1.42],[12.28,1.58],[12.25,1.2],[12.35,1.35],[12.4,1.15],[12.5,1.22],[12.59,1.58],[12.66,1.52],[12.76,1.5],[12.6,1.25],[12.7,1.14],[12.85,1.45],[12.95,1.2],[13.05,1.65],[13.09,1.48],[13.12,1.47],[13.0,1.13],[13.2,1.37],[13.3,1.36],[13.4,1.2],[13.35,1.28],[13.5,1.15],[13.6,1.3],[13.64,1.44],[13.65,1.37],[13.75,1.14],[13.85,1.35],[13.8,1.22],[14.1,1.29],[14.15,1.29],[14.27,1.2],[14.37,1.66],[14.45,1.1],[14.55,1.14],[14.7,1.12],[14.77,1.33],[14.8,1.6],[14.85,1.6],[14.93,1.33],[15.0,1.13],[15.1,1.24],[15.2,1.22],[15.28,1.2],[15.41,1.34],[15.56,1.33],[15.6,1.27],[15.75,1.24],[15.78,1.42],[15.78,1.4],[15.94,1.15],[15.98,1.17],[15.3,1.15],[15.5,1.12],[15.7,1.1],[5.29,2.96],
];

const flatCloud2 = [
[4.13,1.17,1.25],[4.23,1.22],[4.33,1.18,1.3],[4.43,1.14,1.2],[4.53,1.17,1.24],[4.63,1.13,1.2,1.28],[4.73,1.16,1.25],[4.83,1.2,1.28],[4.93,1.13,1.23],[5.03,1.12,1.21,1.28],[5.13,1.15,1.24],[5.23,1.18,1.26],[5.33,1.13,1.2],[5.43,1.17,1.25],[5.53,1.13,1.29],[5.63,1.18,1.23],[5.73,1.12,1.25],[5.83,1.17,1.28],[5.93,1.22,1.3],[6.03,1.14,1.22],[6.13,1.12,1.25],[6.23,1.17,1.21],[6.33,1.13,1.27],[6.43,1.11,1.2],[6.53,1.14,1.25],[6.63,1.12,1.16],[6.73,1.18],[6.83,1.12,1.2],[6.93,1.13,1.24],[7.03,1.11,1.18],[7.13,1.14,1.22,1.3],[7.23,1.16,1.26],[7.33,1.13,1.2],[7.43,1.16,1.3],[7.53,1.12,1.23],[7.63,1.15,1.21],[7.73,1.18,1.28],[7.83,1.13,1.22],[7.93,1.15,1.25],[8.03,1.12,1.3],[8.13,1.17,1.23],[8.23,1.12,1.27],[8.33,1.16,1.3],[8.43,1.2,1.26],[8.53,1.13,1.24],[8.63,1.16,1.33],[8.73,1.12,1.22],[8.83,1.17,1.26,1.36],[8.93,1.14,1.3],[9.03,1.18,1.25],[9.13,1.12,1.22,1.33],[9.23,1.15,1.28],[9.33,1.19,1.26],[9.43,1.13,1.23,1.35],[9.53,1.16,1.28],[9.63,1.12,1.21,1.27],[9.73,1.16,1.24],[9.83,1.13,1.2,1.3],[9.93,1.15,1.26],[10.03,1.18,1.24],[10.13,1.13,1.2,1.35],[10.23,1.16,1.26],[10.33,1.13,1.22],[10.43,1.18,1.28],[10.53,1.12,1.23],[10.63,1.15,1.26],[10.73,1.2,1.24],[10.83,1.13,1.17],[10.93,1.19,1.3],[11.03,1.13,1.2],[11.13,1.16,1.27],[11.23,1.12,1.21],[11.33,1.15,1.26],[11.43,1.12,1.2],[11.53,1.14,1.24],[11.63,1.11,1.18],[11.73,1.15,1.25],[11.83,1.12,1.19],[11.93,1.14,1.27],[12.03,1.12,1.17],[12.13,1.13,1.2],[12.23,1.11,1.15],[12.33,1.14,1.24],[12.43,1.12,1.18],[12.53,1.14,1.2],[12.63,1.11,1.16],[12.73,1.13,1.22],[12.83,1.11,1.16],[12.93,1.14,1.25],[13.03,1.12,1.2],[13.13,1.1,1.16],[13.23,1.14,1.24],[13.33,1.11,1.18],[13.43,1.13,1.2],[13.53,1.11,1.17],[13.63,1.14,1.22],[13.73,1.11,1.18],[13.83,1.13,1.2],[13.93,1.1,1.15],[14.03,1.12],[14.13,1.1,1.16],[14.23,1.12],[14.33,1.1,1.14],[14.53,1.1],[14.63,1.12],[14.83,1.1],[15.03,1.1],[15.23,1.12,1.17],[15.43,1.11],[15.63,1.12,1.15],[15.83,1.1,1.14],
];

const redCorrected = [
[5.05,500],[5.21,325],[5.66,178],[5.71,450],[5.51,65],[6.06,126],[6.17,234],[6.21,347],[6.31,89],[6.52,155],[6.63,92],[6.73,88],[6.78,214],[7.0,110],[7.11,125],[7.21,118],[7.22,100],[7.34,550],[7.35,125],[7.46,160],[7.53,410],[7.54,325],[7.52,270],[7.62,560],[7.69,130],[7.79,260],[7.82,150],[8.02,2500],[8.02,520],[7.93,170],[8.04,175],[8.1,190],[8.23,340],[8.25,205],[8.3,270],[8.34,3400],[8.45,225],[8.5,1050],[8.62,400],[8.6,245],[8.78,310],[8.83,350],[8.87,270],[8.9,600],[8.96,280],[9.0,480],[9.12,4500],[9.17,290],[9.22,380],[9.27,450],[9.32,700],[9.43,26000],[9.38,390],[9.52,560],[9.58,440],[9.69,1400],[9.66,500],[9.8,700],[9.85,520],[9.96,8000],[9.92,830],[9.97,1100],[10.05,420],[10.15,500],[10.03,660],[10.25,1600],[10.27,1250],[10.33,1000],[10.37,2000],[10.53,14500],[10.45,520],[10.59,620],[10.68,2400],[10.83,2700],[10.7,700],[10.87,1150],[10.95,640],[11.09,1400],[11.16,1100],[11.21,5000],[11.3,800],[11.4,900],[11.46,6500],[11.5,13500],[11.56,17000],[11.69,12000],[11.67,11000],[11.63,2800],[11.71,6500],[11.85,1100],[11.8,840],[11.9,950],[12.13,1000],[12.22,6500],[12.33,2000],[12.42,3900],[12.5,1200],[12.64,1800],[12.82,1200],[12.91,22000],[13.0,9300],[13.0,1700],[13.14,1650],[13.6,40000],[13.57,30000],[13.65,15500],[13.65,3500],[13.81,5000],[14.09,13500],[14.1,5000],[14.49,8300],[14.64,19000],[14.95,16000],[15.09,30000],
];
const redFlat = [
1.62,1.5,1.3,1.51,1.06,1.17,1.32,1.4,1.07,1.18,1.07,1.06,1.24,1.01,1.08,1.06,0.99,1.44,1.02,1.09,1.33,1.26,1.21,1.42,1.05,1.15,1.04,1.55,1.37,0.99,1.0,1.05,1.11,1.03,1.08,1.64,1.02,1.45,1.26,1.0,1.15,1.2,1.06,1.36,1.03,1.3,1.59,1.06,1.17,1.25,1.32,1.87,1.15,1.17,1.07,1.33,1.04,1.25,1.05,1.54,1.24,1.08,1.02,1.06,1.12,1.3,1.24,1.2,1.27,1.59,1.05,1.1,1.29,1.29,1.01,1.19,1.2,1.33,1.02,1.07,1.35,1.45,1.47,1.45,1.39,1.25,1.32,1.05,1.02,1.12,1.02,1.08,1.09,1.15,1.02,1.04,1.0,1.33,1.2,1.03,1.0,1.32,1.3,1.18,1.0,1.03,1.11,1.0,1.02,1.09,1.04,1.09,
];
const redExtra = [
[8.7,1.04,300],[9.05,1.02,340],[9.14,1.09,480],[9.25,1.01,360],[9.35,1.06,520],[9.47,1.03,420],[9.55,1.12,760],[9.63,1.0,370],[9.72,1.08,680],[9.77,1.02,420],[9.83,1.14,1000],[9.88,1.0,420],[9.94,1.05,640],[10.01,1.01,440],[10.08,1.1,900],[10.12,1.0,470],[10.18,1.05,700],[10.22,1.15,1200],[10.3,1.02,540],[10.36,1.08,950],[10.41,1.0,520],[10.48,1.14,1400],[10.52,1.03,640],[10.57,1.09,1050],[10.63,1.0,590],[10.72,1.12,1500],[10.76,1.02,680],[10.8,1.07,1100],[10.84,1.17,1900],[10.9,1.0,700],[10.97,1.1,1300],[11.03,1.03,800],[11.07,1.14,1700],[11.12,1.0,780],[11.18,1.07,1250],[11.24,1.02,860],[11.27,1.12,1800],[11.34,1.0,850],[11.38,1.06,1250],[11.43,1.16,2300],[11.48,1.02,950],[11.53,1.08,1500],[11.58,1.0,980],[11.64,1.12,2200],[11.68,1.03,1100],[11.74,1.09,1700],[11.78,1.0,1050],[11.83,1.06,1500],[11.88,1.15,2800],
[8.55,1.12,520],[8.76,1.09,380],[8.92,1.14,720],[9.08,1.2,900],[9.2,1.05,330],[9.3,1.13,620],[9.41,1.01,350],[9.5,1.22,1100],[9.6,1.06,430],[9.75,1.16,820],[9.9,1.09,560],[10.0,1.2,1350],[10.1,1.04,500],[10.2,1.18,1500],[10.28,1.08,700],[10.42,1.12,900],[10.5,1.06,650],[10.62,1.15,1300],[10.74,1.05,680],[10.86,1.1,950],[11.0,1.2,2100],[11.1,1.05,850],[11.2,1.15,1600],[11.32,1.04,900],[11.45,1.09,1200],[11.55,1.18,2600],[11.65,1.06,1100],[11.75,1.13,1900],[11.82,1.03,1050],[11.92,1.08,1250],[8.15,1.04,220],[8.38,1.08,300],[8.48,1.02,220],[7.6,1.02,120],[7.88,1.06,190],
];

function rowsToPoints(rows: number[][]) {
  const out: number[][] = [];
  rows.forEach((r) => r.slice(1).forEach((v) => out.push([r[0], v])));
  return out;
}

const BLUE = "#0000ff";
const RED = "#ff0000";
const FONT = "DejaVu Sans";
const MARK = 3.8;

const grids = [
  { left: 103.3, width: 643.7, top: 99.5, height: 156 },
  { left: 103.3, width: 643.7, top: 255.5, height: 157 },
  { left: 103.3, width: 643.7, top: 412.5, height: 156.5 },
  { left: 103.3, width: 643.7, top: 569, height: 157 },
];

function xAxis(gridIndex: number, bottom: boolean) {
  return {
    type: "value",
    gridIndex,
    min: 1.12,
    max: 18.98,
    splitLine: { show: false },
    axisLine: { show: false },
    axisTick: { show: bottom, length: 3.5, customValues: xTicks, lineStyle: { color: "#000", width: 0.8 } },
    axisLabel: { show: bottom, customValues: xTicks, fontFamily: FONT, fontSize: 14, color: "#000", margin: 5 },
    name: bottom ? "Magnitude" : "",
    nameLocation: "middle",
    nameGap: 20,
    nameMoveOverlap: false,
    nameTextStyle: { fontFamily: FONT, fontSize: 13.5, color: "#000" },
  };
}

function yAxis(gridIndex: number, name: string, nameGap: number, type: string, min: number, max: number, ticks: number[], fmt: (v: number) => string) {
  return {
    type,
    gridIndex,
    position: "left",
    min,
    max,
    splitLine: { show: false },
    axisLine: { show: false },
    minorTick: { show: false },
    axisTick: { show: true, length: 3.5, customValues: ticks, lineStyle: { color: "#000", width: 0.8 } },
    axisLabel: { show: true, customValues: ticks, formatter: (v: number) => fmt(Number(v)), fontFamily: FONT, fontSize: 14, color: "#000", margin: 5 },
    name,
    nameLocation: "middle",
    nameRotate: 90,
    nameGap,
    nameMoveOverlap: false,
    nameTextStyle: { fontFamily: FONT, fontSize: 13.5, color: "#000" },
  };
}

function scatter(xi: number, yi: number, data: number[][], color: string, z = 2) {
  return {
    type: "scatter",
    xAxisIndex: xi,
    yAxisIndex: yi,
    data,
    symbol: "circle",
    symbolSize: MARK,
    z,
    silent: true,
    itemStyle: { color, opacity: 1 },
    emphasis: { disabled: true },
  };
}

const sup = (v: number) => superscript[Math.round(v)] ?? String(v);

export default function App() {
  const ref = useRef<HTMLDivElement>(null);
  useEffect(() => {
    const chart = echarts.init(ref.current!, undefined, { renderer: "svg", width: 830, height: 830 });
    const sharedPts = rowsToPoints(cdppBand).concat(rowsToPoints(cdppBand2), cdppCloud, rowsToPoints(cdppCloud2));
    const reds = redCorrected.map((p, i) => [p[0], p[1], redFlat[i]]).concat(redExtra.map((p) => [p[0], p[2], p[1]]));
    chart.setOption({
      animation: false,
      backgroundColor: "#fff",
      grid: grids.map((g) => ({ ...g, show: true, borderColor: "#000", borderWidth: 0.8, backgroundColor: "transparent", containLabel: false })),
      xAxis: [xAxis(0, false), xAxis(1, false), xAxis(2, false), xAxis(3, true)],
      yAxis: [
        yAxis(0, "0.5-hour CDPP [ppm]", 30, "log", 15.8, 2040000, cdppTicks, sup),
        yAxis(1, "Crowding", 28, "value", -0.03, 1.054, crowdTicks, (v) => v.toFixed(1)),
        yAxis(2, "Corrected CDPP", 30, "log", 13.5, 28000000, correctedTicks, sup),
        yAxis(3, "Flattened CDPP", 29, "value", 0.728, 3.064, flatTicks, (v) => v.toFixed(1)),
        {
          type: "log",
          gridIndex: 0,
          position: "left",
          min: 15.8,
          max: 2040000,
          splitLine: { show: false },
          axisLine: { show: false },
          axisLabel: { show: false },
          axisTick: { show: true, length: 2, customValues: cdppMinor, lineStyle: { color: "#000", width: 0.6 } },
        },
      ],
      series: [
        scatter(0, 0, sharedPts.concat(cdppOutliers), BLUE),
        scatter(1, 1, rowsToPoints(crowdBand).concat(rowsToPoints(crowdBand2), crowdCloud, rowsToPoints(crowdCloud2)), BLUE),
        scatter(2, 2, sharedPts.concat(correctedOutliers), BLUE),
        scatter(2, 2, reds.map((r) => [r[0], r[1]]), RED, 3),
        scatter(3, 3, rowsToPoints(flatBand).concat(rowsToPoints(flatBand2), flatCloud, rowsToPoints(flatCloud2)), BLUE),
        scatter(3, 3, reds.map((r) => [r[0], r[2]]), RED, 3),
      ],
    });
    return () => chart.dispose();
  }, []);
  return <div ref={ref} style={{ position: "absolute", left: 0, top: 0, width: 830, height: 830, background: "#fff" }} />;
}
